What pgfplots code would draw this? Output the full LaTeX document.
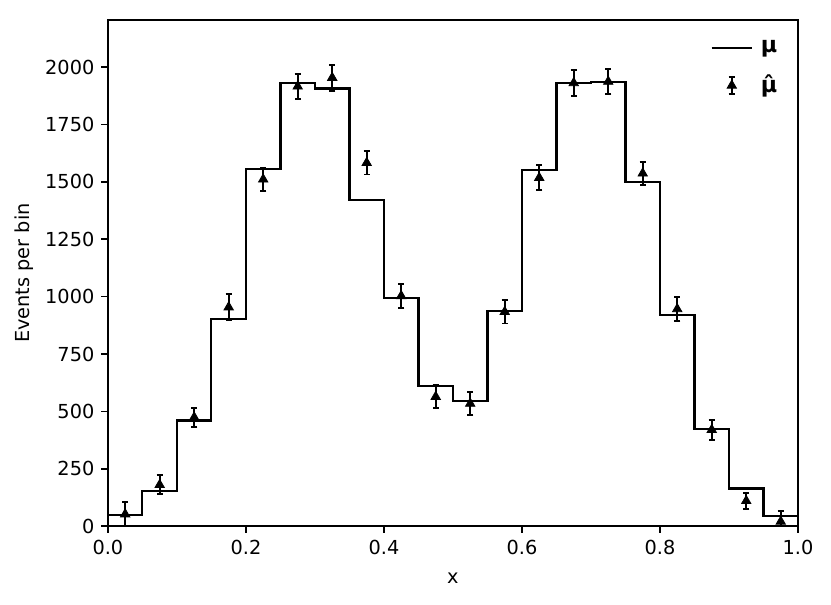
\documentclass[border=0pt]{standalone}
\usepackage{pgfplots}
\pgfplotsset{compat=1.18}
\usepackage{fontspec}
\setmainfont{DejaVu Sans}
\begin{document}
\begin{tikzpicture}
\begin{axis}[
  scale only axis, width=357.4pt, height=262.1pt,
  xmin=0, xmax=1, ymin=0, ymax=2205,
  xtick={0,0.2,0.4,0.6,0.8,1.0},
  xticklabel style={/pgf/number format/.cd, fixed, fixed zerofill, precision=1},
  ytick={0,250,500,750,1000,1250,1500,1750,2000},
  yticklabel style={/pgf/number format/.cd, fixed, 1000 sep={}},
  /pgf/number format/assume math mode=true,
  tick align=outside, xtick pos=bottom, ytick pos=left,
  major tick length=3.5pt,
  every tick/.style={black, line width=0.8pt},
  axis line style={line width=0.8pt},
  font=\fontsize{10pt}{12pt}\selectfont,
  xlabel={x}, ylabel={Events per bin},
  xlabel style={yshift=-3pt},
  ylabel style={yshift=-1pt},
  legend style={draw=none, fill=none, at={(0.99,0.975)}, anchor=north east,
    row sep=6pt, font=\fontsize{11.5pt}{13pt}\selectfont\bfseries,
    nodes={inner xsep=4pt}},
  legend cell align=left,
]
\addplot[const plot mark left, black, line width=1.1pt, forget plot] coordinates {
(0.00,48) (0.05,154) (0.10,460) (0.15,903) (0.20,1556) (0.25,1930) (0.30,1907)
(0.35,1420) (0.40,993) (0.45,610) (0.50,545) (0.55,937) (0.60,1553) (0.65,1929)
(0.70,1935) (0.75,1499) (0.80,921) (0.85,423) (0.90,164) (0.95,44) (1.00,44)};
\addplot[black, only marks, mark=triangle*, mark size=2.8pt, forget plot,
  error bars/.cd, y dir=both, y explicit,
  error bar style={line width=1pt},
  error mark options={rotate=90, mark size=1.6pt, line width=1pt}]
  coordinates {
(0.025,52) +- (0,52)
(0.075,180) +- (0,41)
(0.125,474) +- (0,41)
(0.175,954) +- (0,56)
(0.225,1511) +- (0,51)
(0.275,1916) +- (0,54)
(0.325,1954) +- (0,57)
(0.375,1583) +- (0,51)
(0.425,1003) +- (0,52)
(0.475,564) +- (0,50)
(0.525,534) +- (0,49)
(0.575,934) +- (0,51)
(0.625,1518) +- (0,54)
(0.675,1931) +- (0,55)
(0.725,1937) +- (0,55)
(0.775,1537) +- (0,50)
(0.825,946) +- (0,51)
(0.875,420) +- (0,44)
(0.925,110) +- (0,35)
(0.975,20) +- (0,45)};
\addlegendimage{legend image code/.code={\draw[black, line width=1.1pt] (0pt,0pt) -- (21pt,0pt);}}
\addlegendentry{μ}
\addlegendimage{legend image code/.code={%
  \draw[black, line width=1pt] (10.5pt,-4.5pt) -- (10.5pt,4.5pt)
     (8.9pt,-4.5pt) -- (12.1pt,-4.5pt) (8.9pt,4.5pt) -- (12.1pt,4.5pt);
  \draw[black, fill=black] plot[mark=triangle*, mark size=2.8pt] coordinates {(10.5pt,0pt)};}}
\addlegendentry{\^{μ}}
\end{axis}
\path (current axis.south west) ++(-55.9pt,-40.4pt) coordinate (bbl);
\path (current axis.north east) ++(17.1pt,10.4pt) coordinate (btr);
\useasboundingbox (bbl) rectangle (btr);
\end{tikzpicture}
\end{document}
